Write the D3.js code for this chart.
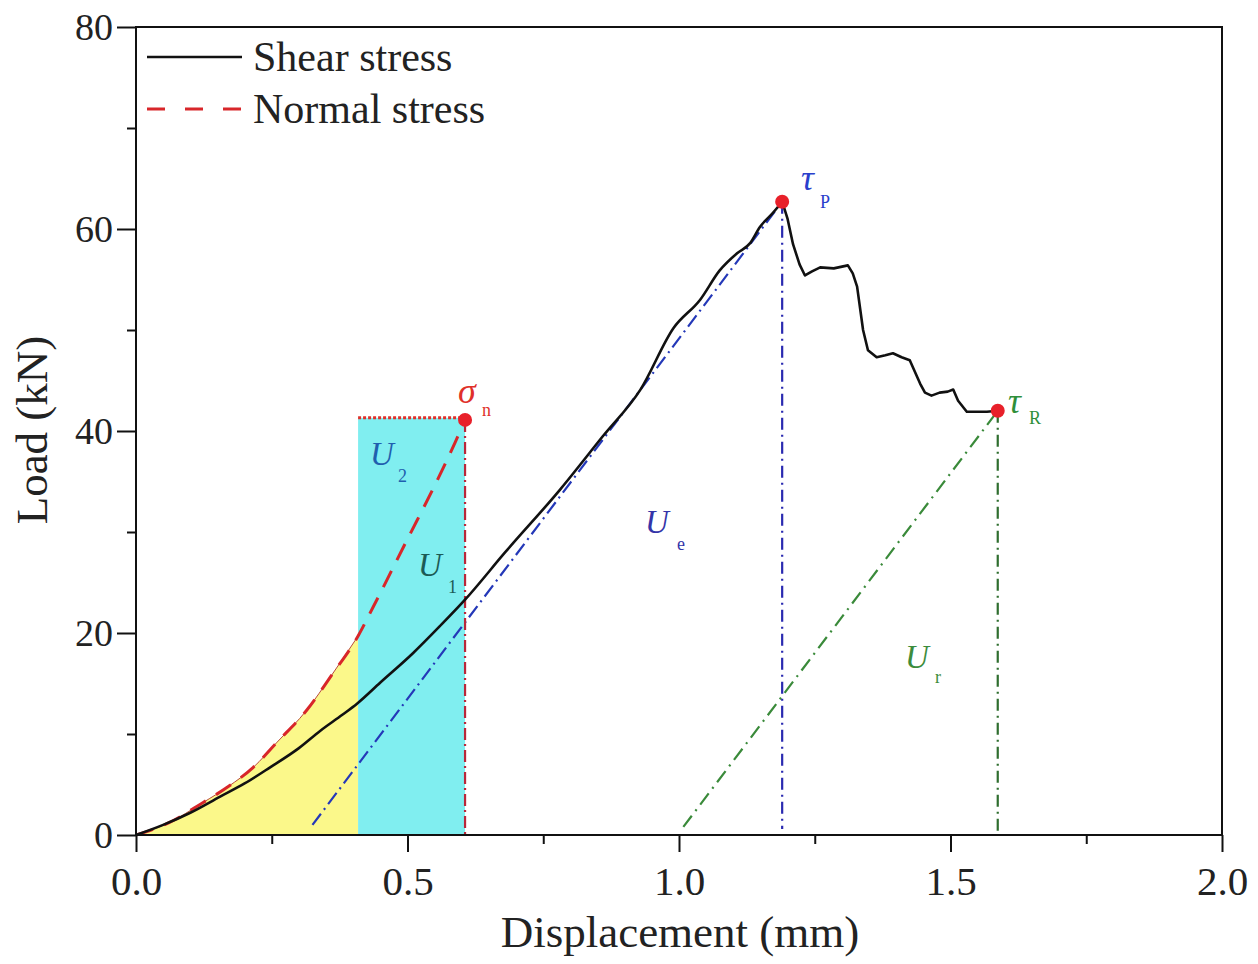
<!DOCTYPE html>
<html>
<head>
<meta charset="utf-8">
<script src="https://cdn.jsdelivr.net/npm/d3@7"></script>
<style>
  body { margin: 0; background: #fff; }
  svg { font-family: "Liberation Serif", "Times New Roman", serif; }
</style>
</head>
<body>
<script>
// shear stress curve (displacement mm, load kN)
var shearDisp = [0, 0.05, 0.1, 0.155, 0.2, 0.247, 0.3, 0.339, 0.38, 0.407, 0.45, 0.51, 0.56, 0.606, 0.68, 0.781, 0.86, 0.929, 0.99, 1.039, 1.075, 1.107, 1.131, 1.149, 1.173, 1.19,
  1.2, 1.21, 1.222, 1.232, 1.245, 1.26, 1.285, 1.311, 1.32, 1.328, 1.339, 1.348, 1.364, 1.38, 1.394, 1.41, 1.425, 1.444, 1.453, 1.465, 1.48, 1.495, 1.505, 1.514, 1.53, 1.55, 1.567, 1.587]
var shearLoad = [0, 1.0, 2.2, 3.8, 5.1, 6.7, 8.6, 10.3, 11.9, 13.0, 15.1, 18.0, 20.7, 23.3, 28, 34.2, 39.5, 44.1, 50.2, 53, 55.9, 57.6, 58.6, 60.2, 61.6, 62.7,
  61, 58.5, 56.5, 55.4, 55.8, 56.2, 56.1, 56.4, 55.6, 54.3, 50, 48, 47.3, 47.5, 47.7, 47.3, 47, 44.7, 43.8, 43.5, 43.8, 43.9, 44.1, 43, 41.9, 41.9, 41.9, 42]

// normal stress curve
var normalDisp = [0, 0.06, 0.123, 0.17, 0.216, 0.26, 0.315, 0.36, 0.409, 0.437, 0.5, 0.55, 0.588, 0.606]
var normalLoad = [0, 1.2, 3.2, 4.8, 6.7, 9.2, 12.4, 15.8, 19.7, 22.6, 29.3, 34.6, 38.9, 41.1]

// key points: sigma_n, tau_P, tau_R
var keyDisp = [0.606, 1.19, 1.587]
var keyLoad = [41.1, 62.7, 42]

// energy guide lines: unloading lines start on the axis
var unloadStart = [0.325, 1.008]
var unloadStartLoad = [1.0, 0.8]

// U2 band (displacement range and top load)
var bandDisp = [0.409, 0.606]
var bandTop = 41.3

var xTicks = [0, 0.5, 1, 1.5, 2]
var xMinor = [0.25, 0.75, 1.25, 1.75]
var yTicks = [0, 20, 40, 60, 80]
var yMinor = [10, 30, 50, 70]

var width = 1258, height = 964
var mLeft = 136, mRight = 1222, mTop = 27, mBottom = 835

var x = d3.scaleLinear().domain([0, 2]).range([mLeft, mRight])
var y = d3.scaleLinear().domain([0, 80]).range([mBottom, mTop])

var svg = d3.select('body').append('svg')
  .attr('width', width)
  .attr('height', height)

var shear = shearDisp.map((d, i) => [d, shearLoad[i]])
var normal = normalDisp.map((d, i) => [d, normalLoad[i]])
var line = d3.line().x(d => x(d[0])).y(d => y(d[1]))
var smooth = d3.line().x(d => x(d[0])).y(d => y(d[1])).curve(d3.curveMonotoneX)

// yellow area under the normal stress curve up to the band
var yellowPts = normal.filter(d => d[0] <= bandDisp[0])
svg.append('path')
  .attr('d', d3.area().x(d => x(d[0])).y0(y(0)).y1(d => y(d[1])).curve(d3.curveMonotoneX)(yellowPts))
  .attr('fill', '#fbf88a')
svg.append('path')
  .attr('d', smooth(yellowPts))
  .attr('fill', 'none')
  .attr('stroke', '#b84a3a')
  .attr('stroke-width', 1)

// cyan band U2
svg.append('rect')
  .attr('x', x(bandDisp[0]))
  .attr('y', y(bandTop))
  .attr('width', x(bandDisp[1]) - x(bandDisp[0]))
  .attr('height', y(0) - y(bandTop))
  .attr('fill', '#80eef0')
svg.append('line')
  .attr('x1', x(bandDisp[0])).attr('x2', x(bandDisp[1]))
  .attr('y1', y(bandTop)).attr('y2', y(bandTop))
  .attr('stroke', '#e0302a')
  .attr('stroke-width', 3)
  .attr('stroke-dasharray', '3,2')

// unloading lines and verticals
var guides = [
  {from: [unloadStart[0], unloadStartLoad[0]], to: [keyDisp[1], keyLoad[1]], color: '#2438b8', dash: '14,5,2,5'},
  {from: [keyDisp[1], keyLoad[1]], to: [keyDisp[1], 0.6], color: '#2a2ab0', dash: '12,5,2,5'},
  {from: [unloadStart[1], unloadStartLoad[1]], to: [keyDisp[2], keyLoad[2]], color: '#3a8a3a', dash: '14,6,2,6'},
  {from: [keyDisp[2], keyLoad[2]], to: [keyDisp[2], 0], color: '#2f6e2f', dash: '12,5,2,5'},
  {from: [keyDisp[0], keyLoad[0]], to: [keyDisp[0], 0], color: '#b8283a', dash: '12,4,2,4'}
]
svg.selectAll('.guide').data(guides).enter().append('line')
  .attr('class', 'guide')
  .attr('x1', d => x(d.from[0])).attr('y1', d => y(d.from[1]))
  .attr('x2', d => x(d.to[0])).attr('y2', d => y(d.to[1]))
  .attr('stroke', d => d.color)
  .attr('stroke-width', 2.2)
  .attr('stroke-dasharray', d => d.dash)

// normal stress dashed curve
svg.append('path')
  .attr('d', smooth(normal))
  .attr('fill', 'none')
  .attr('stroke', '#d8262a')
  .attr('stroke-width', 3)
  .attr('stroke-dasharray', '18,12')

// shear stress curve: smooth rise, jagged softening after the peak
var peakIdx = shearDisp.indexOf(keyDisp[1])
svg.append('path')
  .attr('d', smooth(shear.slice(0, peakIdx + 1)) + line(shear.slice(peakIdx)).replace('M', 'L'))
  .attr('fill', 'none')
  .attr('stroke', '#111')
  .attr('stroke-width', 2.6)
  .attr('stroke-linejoin', 'round')

// key point markers
svg.selectAll('.key').data(keyDisp).enter().append('circle')
  .attr('class', 'key')
  .attr('cx', d => x(d))
  .attr('cy', (d, i) => y(keyLoad[i]))
  .attr('r', 7)
  .attr('fill', '#e8202a')

// annotation labels (symbol + subscript)
var labels = [
  {t: 'σ', s: 'n', x: 458, y: 403, sx: 482, sy: 416, c: '#e0302a', fs: 36},
  {t: 'τ', s: 'P', x: 801, y: 190, sx: 820, sy: 208, c: '#2a3fcc', fs: 36},
  {t: 'τ', s: 'R', x: 1008, y: 413, sx: 1029, sy: 424, c: '#2f8f3a', fs: 36},
  {t: 'U', s: '2', x: 370, y: 465, sx: 398, sy: 482, c: '#1f5fae', fs: 33},
  {t: 'U', s: '1', x: 418, y: 576, sx: 448, sy: 593, c: '#1c5a55', fs: 33},
  {t: 'U', s: 'e', x: 645, y: 533, sx: 677, sy: 550, c: '#3434a8', fs: 33},
  {t: 'U', s: 'r', x: 905, y: 668, sx: 935, sy: 683, c: '#3c8c3c', fs: 33}
]
var lab = svg.selectAll('.lab').data(labels).enter().append('g').attr('class', 'lab')
lab.append('text')
  .attr('x', d => d.x).attr('y', d => d.y)
  .attr('fill', d => d.c)
  .attr('font-size', d => d.fs)
  .attr('font-style', 'italic')
  .text(d => d.t)
lab.append('text')
  .attr('x', d => d.sx).attr('y', d => d.sy)
  .attr('fill', d => d.c)
  .attr('font-size', 18)
  .text(d => d.s)

// axes
var xAxis = svg.append('g').attr('transform', `translate(0,${mBottom})`)
  .call(d3.axisBottom(x).tickValues(xTicks).tickFormat(d3.format('.1f')).tickSize(17).tickPadding(14))
var xAxisMinor = svg.append('g').attr('transform', `translate(0,${mBottom})`)
  .call(d3.axisBottom(x).tickValues(xMinor).tickFormat('').tickSize(9))
var yAxis = svg.append('g').attr('transform', `translate(${mLeft},0)`)
  .call(d3.axisLeft(y).tickValues(yTicks).tickSize(19).tickPadding(4))
var yAxisMinor = svg.append('g').attr('transform', `translate(${mLeft},0)`)
  .call(d3.axisLeft(y).tickValues(yMinor).tickFormat('').tickSize(9))

svg.selectAll('.domain').remove()
svg.selectAll('.tick line').attr('stroke', '#111').attr('stroke-width', 2)
xAxis.selectAll('text').attr('font-size', 41).attr('fill', '#222').attr('font-family', 'Liberation Serif')
yAxis.selectAll('text').attr('font-size', 38).attr('fill', '#222').attr('font-family', 'Liberation Serif')

svg.append('rect')
  .attr('x', mLeft).attr('y', mTop)
  .attr('width', mRight - mLeft).attr('height', mBottom - mTop)
  .attr('fill', 'none')
  .attr('stroke', '#111')
  .attr('stroke-width', 2)

svg.append('text')
  .attr('x', (mLeft + mRight) / 2 + 1)
  .attr('y', 947)
  .attr('text-anchor', 'middle')
  .attr('font-size', 45)
  .attr('fill', '#222')
  .text('Displacement (mm)')

svg.append('text')
  .attr('transform', `translate(47,430) rotate(-90)`)
  .attr('text-anchor', 'middle')
  .attr('font-size', 45)
  .attr('fill', '#222')
  .text('Load (kN)')

// legend
var legendNames = ['Shear stress', 'Normal stress']
var legendStyle = [{c: '#111', dash: null}, {c: '#d8262a', dash: '18,20'}]
var leg = svg.selectAll('.leg').data(legendNames).enter().append('g')
  .attr('class', 'leg')
  .attr('transform', (d, i) => `translate(147,${57 + i * 52})`)
leg.append('line')
  .attr('x1', 0).attr('x2', 95)
  .attr('stroke', (d, i) => legendStyle[i].c)
  .attr('stroke-width', (d, i) => i ? 3 : 2.6)
  .attr('stroke-dasharray', (d, i) => legendStyle[i].dash)
leg.append('text')
  .attr('x', 106)
  .attr('y', 14)
  .attr('font-size', 42)
  .attr('fill', '#222')
  .text(d => d)
</script>
</body>
</html>
